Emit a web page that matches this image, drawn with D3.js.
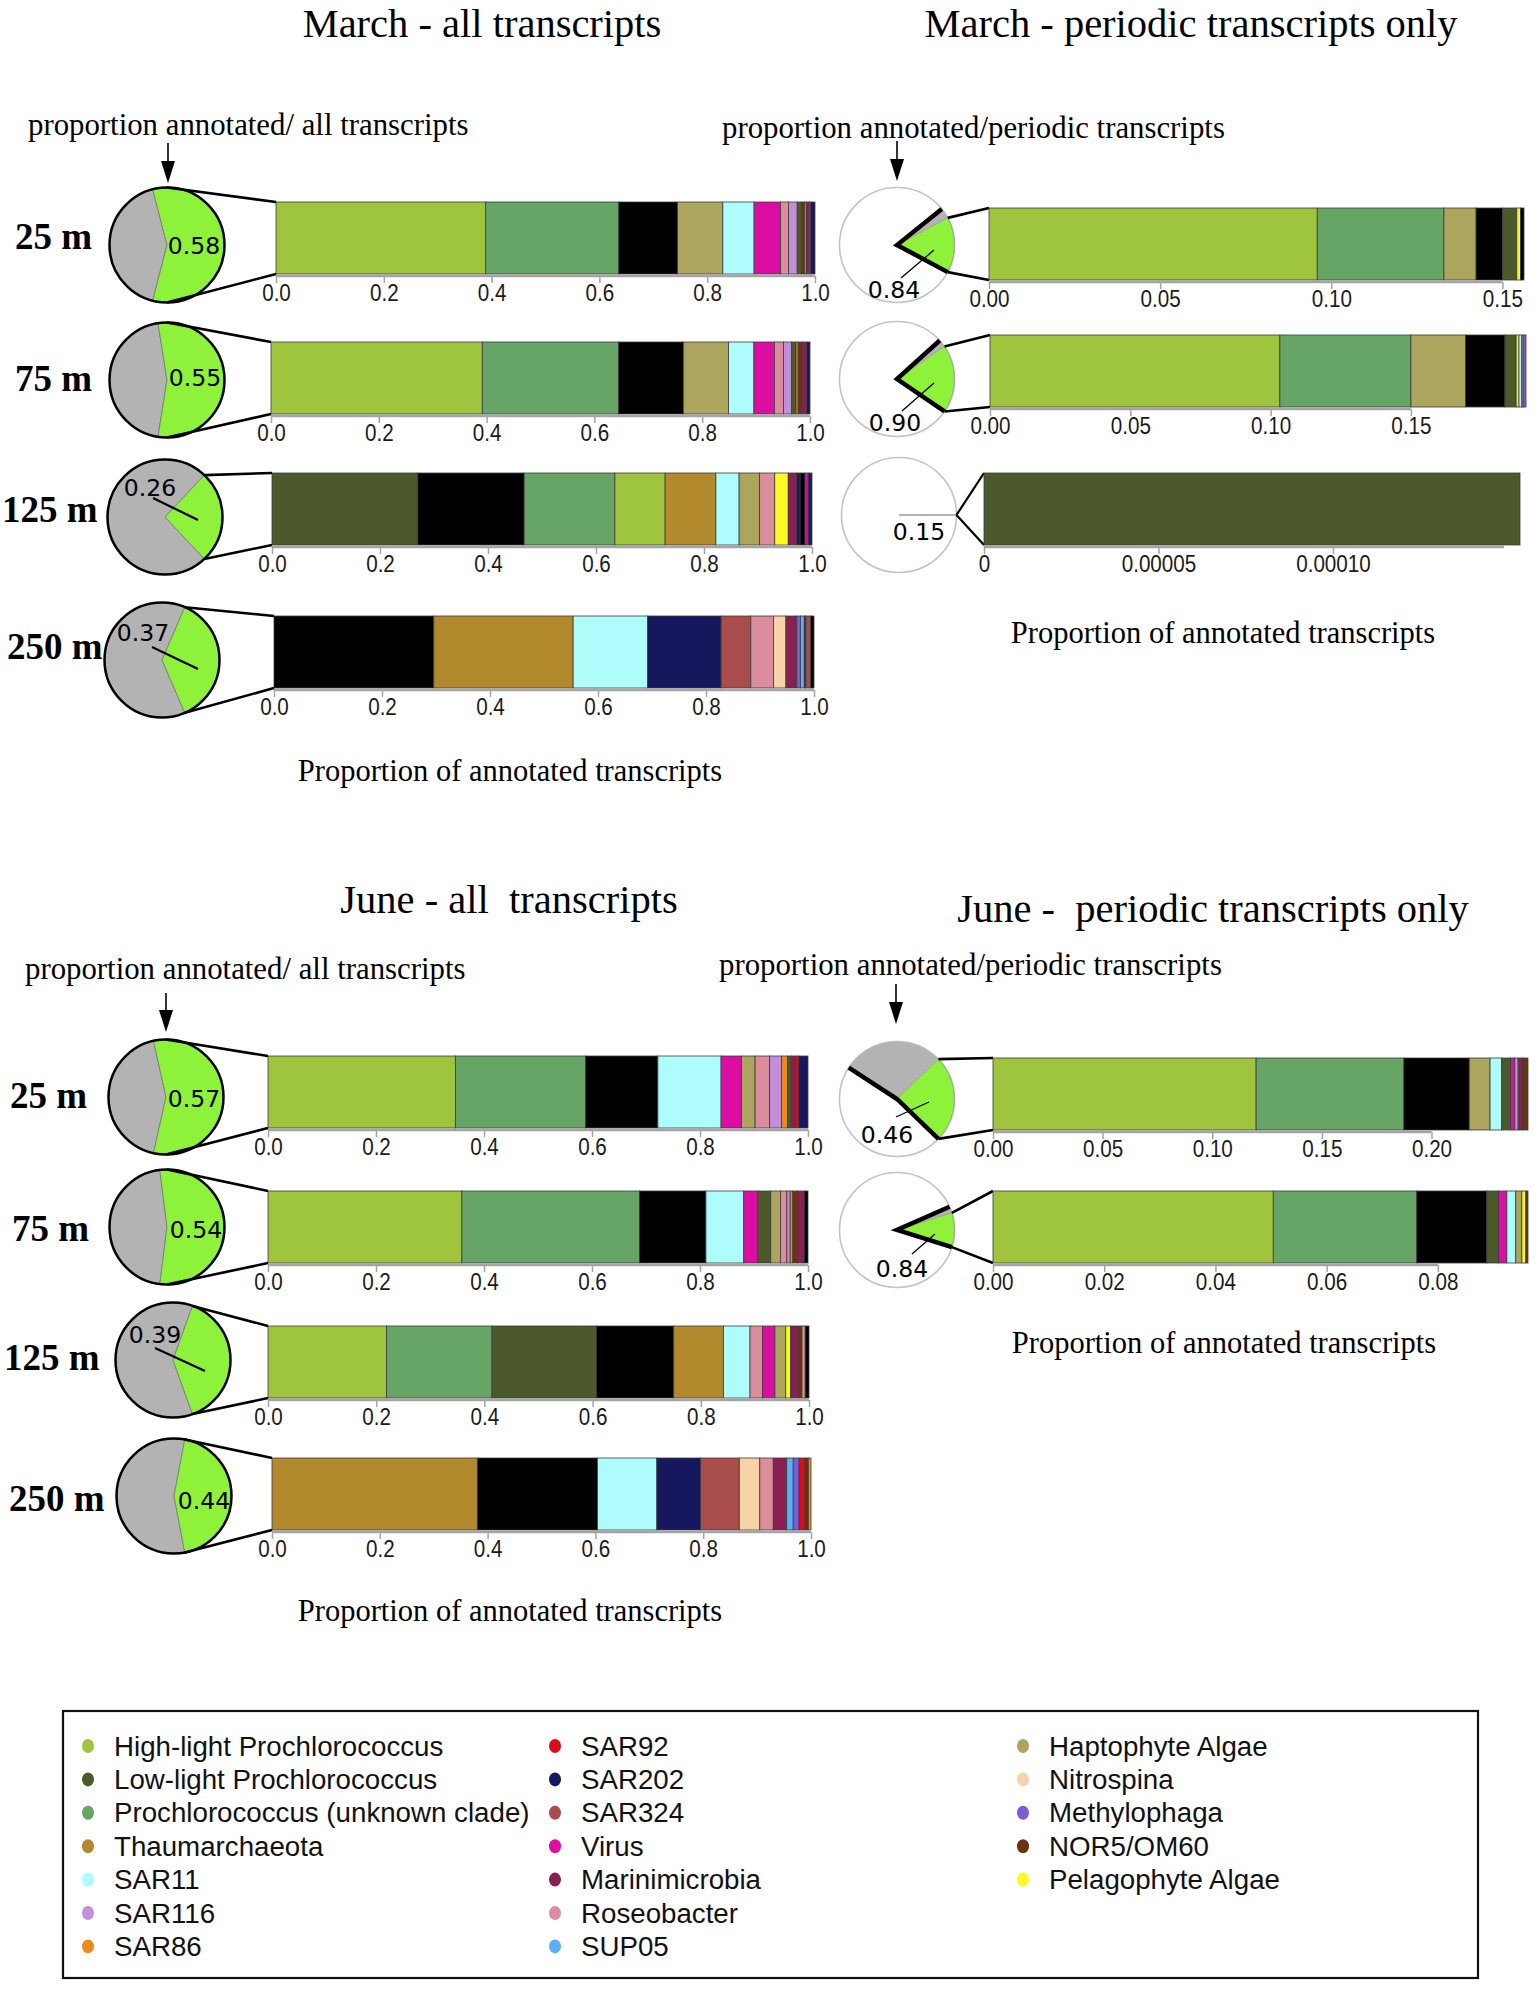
<!DOCTYPE html>
<html><head><meta charset="utf-8">
<script src="https://cdn.jsdelivr.net/npm/d3@7/dist/d3.min.js"></script>
<style>body{margin:0;background:#fff}</style>
</head><body>
<svg id="chart" width="1535" height="1991" xmlns="http://www.w3.org/2000/svg"></svg>
<script>
// ---------------- DATA ----------------
const categories = ["High-light Prochlorococcus","Low-light Prochlorococcus","Prochlorococcus (unknown clade)","Thaumarchaeota","SAR11","SAR116","SAR86","SAR92","SAR202","SAR324","Virus","Marinimicrobia","Roseobacter","SUP05","Haptophyte Algae","Nitrospina","Methylophaga","NOR5/OM60","Pelagophyte Algae","Other"];
const categoryColors = ["#9fc43e","#4c5a2b","#66a565","#b3892e","#aefcfc","#c290d9","#e98b1f","#dd0b17","#17175e","#a84c4c","#dc0da3","#8a1f53","#dc8d9d","#5caff2","#aba55e","#f6d3a8","#7a5bd8","#6b3214","#fafa22","#000000"];
const legendColumns = [
  ["High-light Prochlorococcus","Low-light Prochlorococcus","Prochlorococcus (unknown clade)","Thaumarchaeota","SAR11","SAR116","SAR86"],
  ["SAR92","SAR202","SAR324","Virus","Marinimicrobia","Roseobacter","SUP05"],
  ["Haptophyte Algae","Nitrospina","Methylophaga","NOR5/OM60","Pelagophyte Algae"]
];
const depths = ["25 m","75 m","125 m","250 m"];
const marchAnnotatedAll = [0.58, 0.55, 0.26, 0.37];
const juneAnnotatedAll = [0.57, 0.54, 0.39, 0.44];
const marchAnnotatedPeriodic = [0.84, 0.90, 0.15];
const juneAnnotatedPeriodic = [0.46, 0.84];

const marchAll25m = [["High-light Prochlorococcus",0.389],["Prochlorococcus (unknown clade)",0.247],["Other",0.109],["Haptophyte Algae",0.084],["SAR11",0.058],["Virus",0.049],["Roseobacter",0.015],["SAR116",0.016],["Low-light Prochlorococcus",0.008],["NOR5/OM60",0.006],["SAR86",0.003],["Marinimicrobia",0.006],["Pelagophyte Algae",0.002],["SAR202",0.008]];
const marchAll75m = [["High-light Prochlorococcus",0.392],["Prochlorococcus (unknown clade)",0.253],["Other",0.12],["Haptophyte Algae",0.084],["SAR11",0.047],["Virus",0.038],["Roseobacter",0.017],["SAR116",0.015],["Low-light Prochlorococcus",0.008],["SAR86",0.004],["NOR5/OM60",0.007],["Marinimicrobia",0.009],["SAR202",0.006]];
const marchAll125m = [["Low-light Prochlorococcus",0.27],["Other",0.197],["Prochlorococcus (unknown clade)",0.168],["High-light Prochlorococcus",0.093],["Thaumarchaeota",0.094],["SAR11",0.043],["Haptophyte Algae",0.038],["Roseobacter",0.028],["Pelagophyte Algae",0.025],["Marinimicrobia",0.016],["SAR202",0.006],["Other",0.009],["Virus",0.006],["SAR202",0.007]];
const marchAll250m = [["Other",0.296],["Thaumarchaeota",0.258],["SAR11",0.138],["SAR202",0.136],["SAR324",0.055],["Roseobacter",0.042],["Nitrospina",0.023],["Marinimicrobia",0.02],["Methylophaga",0.007],["SUP05",0.007],["SAR202",0.003],["SAR324",0.009],["Other",0.006]];

const juneAll25m = [["High-light Prochlorococcus",0.347],["Prochlorococcus (unknown clade)",0.241],["Other",0.134],["SAR11",0.117],["Virus",0.038],["Haptophyte Algae",0.025],["Roseobacter",0.027],["SAR116",0.022],["SAR86",0.011],["Low-light Prochlorococcus",0.007],["Marinimicrobia",0.008],["SAR92",0.006],["SAR202",0.017]];
const juneAll75m = [["High-light Prochlorococcus",0.359],["Prochlorococcus (unknown clade)",0.329],["Other",0.123],["SAR11",0.07],["Virus",0.026],["Low-light Prochlorococcus",0.024],["Haptophyte Algae",0.018],["Roseobacter",0.012],["SAR116",0.006],["SAR86",0.005],["NOR5/OM60",0.009],["Marinimicrobia",0.012],["Other",0.007]];
const juneAll125m = [["High-light Prochlorococcus",0.219],["Prochlorococcus (unknown clade)",0.195],["Low-light Prochlorococcus",0.193],["Other",0.143],["Thaumarchaeota",0.092],["SAR11",0.049],["Roseobacter",0.023],["Virus",0.023],["Haptophyte Algae",0.02],["Pelagophyte Algae",0.009],["Marinimicrobia",0.014],["NOR5/OM60",0.007],["Roseobacter",0.006],["Other",0.007]];
const juneAll250m = [["Thaumarchaeota",0.381],["Other",0.223],["SAR11",0.11],["SAR202",0.081],["SAR324",0.072],["Nitrospina",0.038],["Roseobacter",0.025],["Marinimicrobia",0.025],["SUP05",0.012],["Methylophaga",0.011],["SAR92",0.011],["NOR5/OM60",0.006],["SAR86",0.005]];

const marchPer25m = [["High-light Prochlorococcus",0.0959],["Prochlorococcus (unknown clade)",0.037],["Haptophyte Algae",0.0094],["Other",0.0077],["Low-light Prochlorococcus",0.0042],["Pelagophyte Algae",0.0011],["Other",0.001]];
const marchPer75m = [["High-light Prochlorococcus",0.1033],["Prochlorococcus (unknown clade)",0.0467],["Haptophyte Algae",0.0195],["Other",0.014],["Low-light Prochlorococcus",0.004],["Pelagophyte Algae",0.001],["SAR11",0.001],["Roseobacter",0.0005],["Methylophaga",0.001]];
const marchPer125m = [["Low-light Prochlorococcus",0.0001536]];
const junePer25m = [["High-light Prochlorococcus",0.12],["Prochlorococcus (unknown clade)",0.0674],["Other",0.0298],["Haptophyte Algae",0.0095],["SAR11",0.0053],["Low-light Prochlorococcus",0.004],["Virus",0.002],["SAR116",0.0015],["Marinimicrobia",0.002],["NOR5/OM60",0.0025]];
const junePer75m = [["High-light Prochlorococcus",0.0504],["Prochlorococcus (unknown clade)",0.0258],["Other",0.0126],["Low-light Prochlorococcus",0.0021],["Virus",0.0015],["SAR11",0.0016],["Haptophyte Algae",0.0011],["Pelagophyte Algae",0.0007],["NOR5/OM60",0.0004]];

const allTicks = [0,0.2,0.4,0.6,0.8,1.0];
const marchPer25Ticks = [0,0.05,0.10,0.15];
const marchPer75Ticks = [0,0.05,0.10,0.15];
const marchPer125Ticks = [0,0.00005,0.00010];
const marchPer125AxisEnd = 0.000149;
const junePer25Ticks = [0,0.05,0.10,0.15,0.20];
const junePer75Ticks = [0,0.02,0.04,0.06,0.08];

const titles = ["March - all transcripts","March - periodic transcripts only","June - all  transcripts","June -  periodic transcripts only"];
const subtitleAll = "proportion annotated/ all transcripts";
const subtitlePeriodic = "proportion annotated/periodic transcripts";
const axisTitle = "Proportion of annotated transcripts";

// ---------------- DRAWING ----------------
const colorOf = d3.scaleOrdinal().domain(categories).range(categoryColors);
const svg = d3.select("#chart");
const serif = "'Liberation Serif','Times New Roman',serif";
const sans = "'Liberation Sans',Arial,sans-serif";
const dejavu = "'DejaVu Sans',sans-serif";
const R = 57.5, BAR_H = 72;
const PIE_GREEN = "#8ef23b", PIE_GRAY = "#b3b3b3";
const rad = a => a * Math.PI / 180;
const pt = (cx, cy, a, r = R) => [cx + r * Math.sin(rad(a)), cy - r * Math.cos(rad(a))];
const f1 = d3.format(".1f"), f2 = d3.format(".2f");
const f5 = v => v === 0 ? "0" : d3.format(".5f")(v);

function drawBar(g, series, x0, y, w, ticks, fmt, axisEnd) {
  const total = d3.sum(series, d => d[1]);
  const x = d3.scaleLinear().domain([0, total]).range([x0, x0 + w]);
  let acc = 0;
  const segs = series.map(([name, v]) => { const s = {name, v, a: acc}; acc += v; return s; });
  g.append("g").selectAll("rect").data(segs).join("rect")
    .attr("x", d => x(d.a)).attr("y", y)
    .attr("width", d => Math.max(0.6, x(d.a + d.v) - x(d.a))).attr("height", BAR_H)
    .attr("fill", d => colorOf(d.name)).attr("stroke", "#3c3c3c").attr("stroke-width", 0.8);
  const ag = g.append("g").attr("transform", `translate(0,${y + BAR_H + 2})`)
    .call(d3.axisBottom(x).tickValues(ticks).tickFormat(fmt).tickSize(7).tickPadding(1));
  ag.select(".domain").remove();
  ag.append("line").attr("x1", x(0)).attr("x2", x(axisEnd !== undefined ? axisEnd : ticks[ticks.length - 1]))
    .attr("stroke", "#a5a5a5").attr("stroke-width", 2.5);
  ag.selectAll(".tick line").attr("stroke", "#a5a5a5").attr("stroke-width", 1.5);
  ag.selectAll(".tick text").attr("font-family", sans).attr("font-size", 24).attr("fill", "#1a1a1a")
    .attr("transform", "scale(0.86,1)");
  return {x, total};
}

function connectors(g, p1, p2, x0, y, width) {
  g.append("line").attr("x1", p1[0]).attr("y1", p1[1]).attr("x2", x0).attr("y2", y)
    .attr("stroke", "#000").attr("stroke-width", width);
  g.append("line").attr("x1", p2[0]).attr("y1", p2[1]).attr("x2", x0).attr("y2", y + BAR_H)
    .attr("stroke", "#000").attr("stroke-width", width);
}

function pieLabel(g, row, value) {
  g.append("text").attr("x", row.cx + row.lab[0]).attr("y", row.cy + row.lab[1])
    .attr("text-anchor", "middle").attr("dominant-baseline", "central")
    .attr("font-family", dejavu).attr("font-size", 23.5).attr("fill", "#000").text(f2(value));
  if (row.ptr) {
    g.append("line").attr("x1", row.cx + row.ptr[0]).attr("y1", row.cy + row.ptr[1])
      .attr("x2", row.cx + row.ptr[2]).attr("y2", row.cy + row.ptr[3])
      .attr("stroke", "#000").attr("stroke-width", row.ptrW || 2.2);
  }
}

function depthLabel(g, row) {
  g.append("text").attr("x", row.dx).attr("y", row.dy).attr("font-family", serif)
    .attr("font-weight", "bold").attr("font-size", 37).text(row.depth);
}

function drawAllRow(row) {
  const g = svg.append("g");
  depthLabel(g, row);
  const f = row.annot;
  const s = 90 - f * 180, e = 90 + f * 180;
  const arc = d3.arc().innerRadius(0).outerRadius(R);
  g.append("path").attr("transform", `translate(${row.cx},${row.cy})`)
    .attr("d", arc({startAngle: rad(e), endAngle: rad(s + 360)})).attr("fill", PIE_GRAY)
    .attr("stroke", "#777").attr("stroke-width", 0.8);
  g.append("path").attr("transform", `translate(${row.cx},${row.cy})`)
    .attr("d", arc({startAngle: rad(s), endAngle: rad(e)})).attr("fill", PIE_GREEN)
    .attr("stroke", "#777").attr("stroke-width", 0.8);
  g.append("circle").attr("cx", row.cx).attr("cy", row.cy).attr("r", R)
    .attr("fill", "none").attr("stroke", "#000").attr("stroke-width", 2.5);
  pieLabel(g, row, f);
  drawBar(g, row.series, row.x0, row.y, row.w, allTicks, f1);
  connectors(g, pt(row.cx, row.cy, Math.max(0, s)), pt(row.cx, row.cy, Math.min(180, e)), row.x0, row.y, 2.6);
}

function drawPeriodicRow(row) {
  const g = svg.append("g");
  const total = d3.sum(row.series, d => d[1]);
  const greenSpan = total * 360;
  const wedgeSpan = total / row.annot * 360;
  const gs = 90 - greenSpan / 2, ge = 90 + greenSpan / 2, grs = gs - (wedgeSpan - greenSpan);
  const arc = d3.arc().innerRadius(0).outerRadius(R);
  g.append("circle").attr("cx", row.cx).attr("cy", row.cy).attr("r", R)
    .attr("fill", "#fff").attr("stroke", "#c4c4c4").attr("stroke-width", 1.6);
  if (wedgeSpan > 1) {
    g.append("path").attr("transform", `translate(${row.cx},${row.cy})`)
      .attr("d", arc({startAngle: rad(grs), endAngle: rad(gs)})).attr("fill", PIE_GRAY);
    g.append("path").attr("transform", `translate(${row.cx},${row.cy})`)
      .attr("d", arc({startAngle: rad(gs), endAngle: rad(ge)})).attr("fill", PIE_GREEN)
      .attr("stroke", "#888").attr("stroke-width", 0.6);
    const pa = pt(row.cx, row.cy, grs), pb = pt(row.cx, row.cy, ge);
    g.append("path").attr("d", `M${pa[0]},${pa[1]}L${row.cx},${row.cy}L${pb[0]},${pb[1]}`)
      .attr("fill", "none").attr("stroke", "#000").attr("stroke-width", 4.5).attr("stroke-linejoin", "miter");
    connectors(g, pt(row.cx, row.cy, gs), pb, row.x0, row.y, 2.6);
  } else {
    const p = pt(row.cx, row.cy, gs);
    g.append("line").attr("x1", row.cx).attr("y1", row.cy).attr("x2", p[0]).attr("y2", p[1])
      .attr("stroke", "#9a9a9a").attr("stroke-width", 1.6);
    connectors(g, p, p, row.x0, row.y, 2.2);
  }
  pieLabel(g, row, row.annot);
  drawBar(g, row.series, row.x0, row.y, row.w, row.ticks, row.fmt, row.axisEnd);
}

// ---- layout ----
const marchAllRows = [
  {series: marchAll25m, annot: marchAnnotatedAll[0], depth: depths[0], dx: 15, dy: 249, cx: 167, cy: 245, x0: 276, y: 202, w: 539, lab: [27, 1]},
  {series: marchAll75m, annot: marchAnnotatedAll[1], depth: depths[1], dx: 15, dy: 391, cx: 167, cy: 380, x0: 271, y: 342, w: 539, lab: [28, -2]},
  {series: marchAll125m, annot: marchAnnotatedAll[2], depth: depths[2], dx: 2, dy: 522, cx: 165, cy: 517, x0: 272, y: 473, w: 540, lab: [-15, -29], ptr: [-12, -19, 33, 3]},
  {series: marchAll250m, annot: marchAnnotatedAll[3], depth: depths[3], dx: 7, dy: 659, cx: 162, cy: 660, x0: 274, y: 616, w: 540, lab: [-19, -27], ptr: [-10, -13, 36, 9]}
];
const juneAllRows = [
  {series: juneAll25m, annot: juneAnnotatedAll[0], depth: depths[0], dx: 10, dy: 1108, cx: 166, cy: 1097, x0: 268, y: 1056, w: 540, lab: [28, 2]},
  {series: juneAll75m, annot: juneAnnotatedAll[1], depth: depths[1], dx: 12, dy: 1241, cx: 167, cy: 1227, x0: 268, y: 1191, w: 540, lab: [29, 3]},
  {series: juneAll125m, annot: juneAnnotatedAll[2], depth: depths[2], dx: 4, dy: 1370, cx: 173, cy: 1360, x0: 268, y: 1326, w: 541, lab: [-18, -25], ptr: [-18, -12, 32, 11]},
  {series: juneAll250m, annot: juneAnnotatedAll[3], depth: depths[3], dx: 9, dy: 1511, cx: 174, cy: 1496, x0: 272, y: 1458, w: 539, lab: [30, 5]}
];
const marchPerRows = [
  {series: marchPer25m, annot: marchAnnotatedPeriodic[0], cx: 897, cy: 245, x0: 989, y: 208, w: 535, ticks: marchPer25Ticks, fmt: f2, lab: [-3, 45], ptr: [4, 33, 37, 5], ptrW: 1.3},
  {series: marchPer75m, annot: marchAnnotatedPeriodic[1], cx: 897, cy: 379, x0: 990, y: 335, w: 536, ticks: marchPer75Ticks, fmt: f2, lab: [-2, 44], ptr: [5, 32, 37, 4], ptrW: 1.3},
  {series: marchPer125m, annot: marchAnnotatedPeriodic[2], cx: 899, cy: 515, x0: 984, y: 473, w: 536, ticks: marchPer125Ticks, fmt: f5, axisEnd: marchPer125AxisEnd, lab: [20, 17]}
];
const junePerRows = [
  {series: junePer25m, annot: juneAnnotatedPeriodic[0], cx: 897, cy: 1099, x0: 993, y: 1058, w: 535, ticks: junePer25Ticks, fmt: f2, lab: [-10, 36], ptr: [-1, 18, 32, 3], ptrW: 1.3},
  {series: junePer75m, annot: juneAnnotatedPeriodic[1], cx: 897, cy: 1230, x0: 993, y: 1191, w: 535, ticks: junePer75Ticks, fmt: f2, lab: [5, 39], ptr: [15, 24, 38, 4], ptrW: 1.3}
];

// ---- texts ----
function txt(x, y, s, size, anchor) {
  return svg.append("text").attr("x", x).attr("y", y).attr("font-family", serif)
    .attr("font-size", size).attr("text-anchor", anchor || "start").style("white-space", "pre").text(s);
}
txt(482, 37, titles[0], 40.5, "middle");
txt(1191, 37, titles[1], 40.5, "middle");
txt(509, 913, titles[2], 40.5, "middle");
txt(1213, 922, titles[3], 40.5, "middle");
txt(28, 135, subtitleAll, 30.8);
txt(722, 138, subtitlePeriodic, 30.8);
txt(25, 979, subtitleAll, 30.8);
txt(719, 975, subtitlePeriodic, 30.8);
txt(510, 781, axisTitle, 30.5, "middle");
txt(1223, 643, axisTitle, 30.5, "middle");
txt(510, 1621, axisTitle, 30.5, "middle");
txt(1224, 1353, axisTitle, 30.5, "middle");

function arrow(x, y1, y2) {
  svg.append("line").attr("x1", x).attr("x2", x).attr("y1", y1).attr("y2", y2 - 18)
    .attr("stroke", "#000").attr("stroke-width", 1.6);
  svg.append("path").attr("d", `M${x - 7},${y2 - 22}L${x + 7},${y2 - 22}L${x},${y2}Z`).attr("fill", "#000");
}
arrow(168, 143, 183);
arrow(897, 141, 181);
arrow(166, 993, 1032);
arrow(896, 984, 1024);

marchAllRows.forEach(drawAllRow);
juneAllRows.forEach(drawAllRow);
marchPerRows.forEach(drawPeriodicRow);
junePerRows.forEach(drawPeriodicRow);

// ---- legend ----
svg.append("rect").attr("x", 63).attr("y", 1711).attr("width", 1415).attr("height", 267)
  .attr("fill", "none").attr("stroke", "#111").attr("stroke-width", 2.2);
const legX = [88, 555, 1023];
legendColumns.forEach((col, ci) => {
  const lg = svg.append("g");
  lg.selectAll("ellipse").data(col).join("ellipse")
    .attr("cx", legX[ci]).attr("cy", (d, i) => 1746 + i * 33.4).attr("rx", 6).attr("ry", 7)
    .attr("fill", d => colorOf(d));
  lg.selectAll("text").data(col).join("text")
    .attr("x", legX[ci] + 26).attr("y", (d, i) => 1746 + i * 33.4)
    .attr("dominant-baseline", "central").attr("font-family", sans).attr("font-size", 27.7)
    .attr("fill", "#111").text(d => d);
});
</script>
</body></html>
